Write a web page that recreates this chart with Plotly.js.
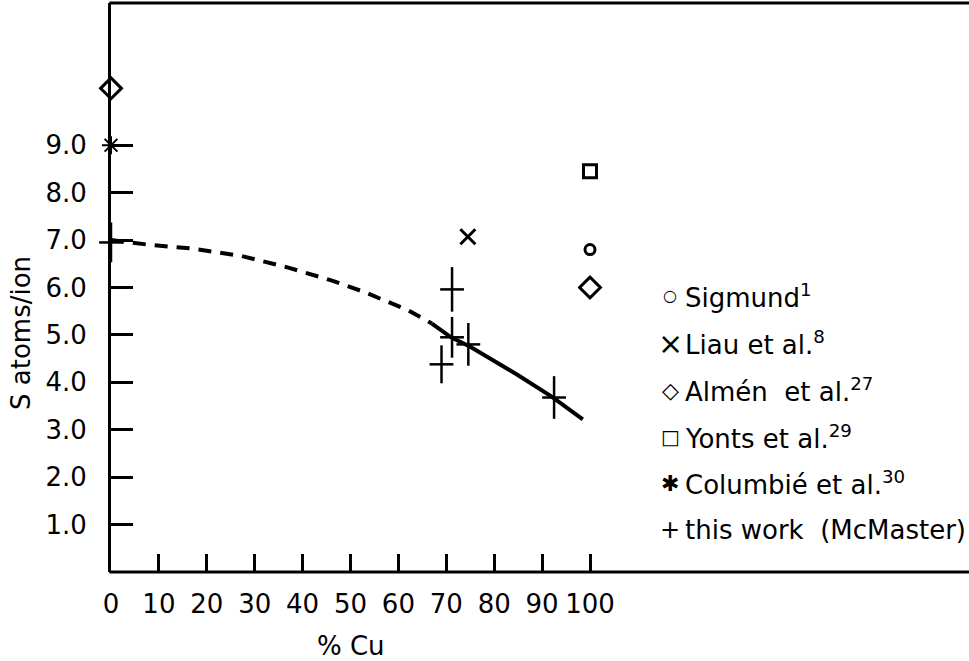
<!DOCTYPE html>
<html>
<head>
<meta charset="utf-8">
<script src="https://cdn.plot.ly/plotly-3.0.1.min.js"></script>
<style>html,body{margin:0;padding:0;background:#fff;overflow:hidden;}#chart{width:969px;height:661px;}</style>
</head>
<body>
<div id="chart"></div>
<script>
// ---- data ----
const sigmundX = [100];
const sigmundY = [6.8];
const liauX = [74.5];
const liauY = [7.07];
const almenX = [0, 100];
const almenY = [10.2, 6.0];
const yontsX = [100];
const yontsY = [8.45];
const columbieX = [0];
const columbieY = [9.0];
const thisWorkX = [0, 69, 71.2, 71.2, 74.6, 92.5];
const thisWorkY = [6.95, 4.38, 5.96, 4.95, 4.8, 3.68];
const thisWorkErr = [0.42, 0.4, 0.47, 0.43, 0.45, 0.45];
const fitDashX = [0, 8, 17, 27, 37, 46, 53, 62, 67];
const fitDashY = [7.0, 6.9, 6.82, 6.67, 6.42, 6.15, 5.9, 5.52, 5.24];
const fitSolidX = [67, 71, 75, 80, 85, 92, 98.5];
const fitSolidY = [5.24, 4.95, 4.75, 4.45, 4.15, 3.7, 3.22];
const xTickVals = [0, 10, 20, 30, 40, 50, 60, 70, 80, 90, 100];
const xTickText = ['0', '10', '20', '30', '40', '50', '60', '70', '80', '90', '100'];
const yTickVals = [1, 2, 3, 4, 5, 6, 7, 8, 9];
const yTickText = ['1.0', '2.0', '3.0', '4.0', '5.0', '6.0', '7.0', '8.0', '9.0'];
const legendSymbols = ['○', '×', '◇', '□', '✱', '+'];
const legendLabels = ['Sigmund<sup>1</sup>', 'Liau et al.<sup>8</sup>', 'Almén  et al.<sup>27</sup>',
  'Yonts et al.<sup>29</sup>', 'Columbié et al.<sup>30</sup>', 'this work  (McMaster)'];
const xTitle = '% Cu';
const yTitle = 'S atoms/ion';

const FONT = 'DejaVu Sans, Liberation Sans, sans-serif';
const K = '#000';

const traces = [
  {x: fitDashX, y: fitDashY, mode: 'lines', line: {color: K, width: 4, dash: '13px,9px'}, hoverinfo: 'skip', cliponaxis: false},
  {x: fitSolidX, y: fitSolidY, mode: 'lines', line: {color: K, width: 4}, hoverinfo: 'skip', cliponaxis: false},
  {x: sigmundX, y: sigmundY, mode: 'markers', marker: {symbol: 'circle-open', size: 10, color: K, line: {color: K, width: 3}}, cliponaxis: false},
  {x: liauX, y: liauY, mode: 'markers', marker: {symbol: 'x-thin-open', size: 15, color: K, line: {color: K, width: 3}}, cliponaxis: false},
  {x: almenX, y: almenY, mode: 'markers', marker: {symbol: 'diamond-open', size: 16, color: K, line: {color: K, width: 3}}, cliponaxis: false},
  {x: yontsX, y: yontsY, mode: 'markers', marker: {symbol: 'square-open', size: 13, color: K, line: {color: K, width: 3}}, cliponaxis: false},
  {x: columbieX, y: columbieY, mode: 'markers', marker: {symbol: 'asterisk-open', size: 15, color: K, line: {color: K, width: 2}}, cliponaxis: false},
  {x: thisWorkX, y: thisWorkY, mode: 'markers',
   marker: {symbol: 'line-ew-open', size: 17, color: K, line: {color: K, width: 2.5}},
   error_y: {type: 'data', array: thisWorkErr, visible: true, width: 0, thickness: 2.5, color: K},
   cliponaxis: false}
];

const W = 969, H = 661, L = 111, R = 30, T = 3, B = 89;
const pw = W - L - R, ph = H - T - B;
const px2x = p => (p - L) / pw;
const py2y = p => 1 - (p - T) / ph;

// legend drawn as text annotations
const annotations = [];
const rowY = [296, 343, 390, 437, 483, 530];
const symSize = [16, 30, 22, 20, 22, 24];
for (let i = 0; i < legendLabels.length; i++) {
  annotations.push({xref: 'paper', yref: 'paper', x: px2x(670), y: py2y(rowY[i]), xanchor: 'center', yanchor: 'middle',
    text: legendSymbols[i], showarrow: false, font: {family: FONT, size: symSize[i], color: K}});
  annotations.push({xref: 'paper', yref: 'paper', x: px2x(683), y: py2y(rowY[i]), xanchor: 'left', yanchor: 'middle',
    text: legendLabels[i], showarrow: false, font: {family: FONT, size: 26, color: K}});
}
// axis titles placed as in the reference
annotations.push({xref: 'paper', yref: 'paper', x: px2x(21), y: py2y(333), xanchor: 'center', yanchor: 'middle',
  textangle: -90, text: yTitle, showarrow: false, font: {family: FONT, size: 26, color: K}});
annotations.push({xref: 'paper', yref: 'paper', x: px2x(351), y: py2y(646), xanchor: 'center', yanchor: 'middle',
  text: xTitle, showarrow: false, font: {family: FONT, size: 26, color: K}});

const layout = {
  width: W, height: H,
  margin: {l: L, r: R, t: T, b: B},
  paper_bgcolor: '#fff', plot_bgcolor: '#fff',
  showlegend: false,
  font: {family: FONT, color: K, size: 26},
  xaxis: {
    range: [0, pw / 4.79], autorange: false,
    showgrid: false, zeroline: false,
    showline: false,
    ticks: 'inside', ticklen: 18, tickwidth: 3, tickcolor: K,
    tickmode: 'array', tickvals: xTickVals, ticktext: xTickText,
    tickfont: {family: FONT, size: 26, color: K},
    ticklabelstandoff: 14
  },
  yaxis: {
    range: [0, 12], autorange: false,
    showgrid: false, zeroline: false,
    showline: true, linecolor: K, linewidth: 3, mirror: false,
    ticks: 'inside', ticklen: 22, tickwidth: 3, tickcolor: K,
    tickmode: 'array', tickvals: yTickVals, ticktext: yTickText,
    tickfont: {family: FONT, size: 26, color: K},
    ticklabelstandoff: 16
  },
  // box lines running out to the page edge (the reference shows no right border)
  shapes: [
    {type: 'line', xref: 'paper', yref: 'paper', x0: -0.002, x1: (W - L) / pw, y0: 1, y1: 1, line: {color: K, width: 3}},
    {type: 'line', xref: 'paper', yref: 'paper', x0: -0.002, x1: (W - L) / pw, y0: 0, y1: 0, line: {color: K, width: 3}}
  ],
  annotations: annotations
};

Plotly.newPlot('chart', traces, layout, {staticPlot: true, displayModeBar: false});
</script>
</body>
</html>
